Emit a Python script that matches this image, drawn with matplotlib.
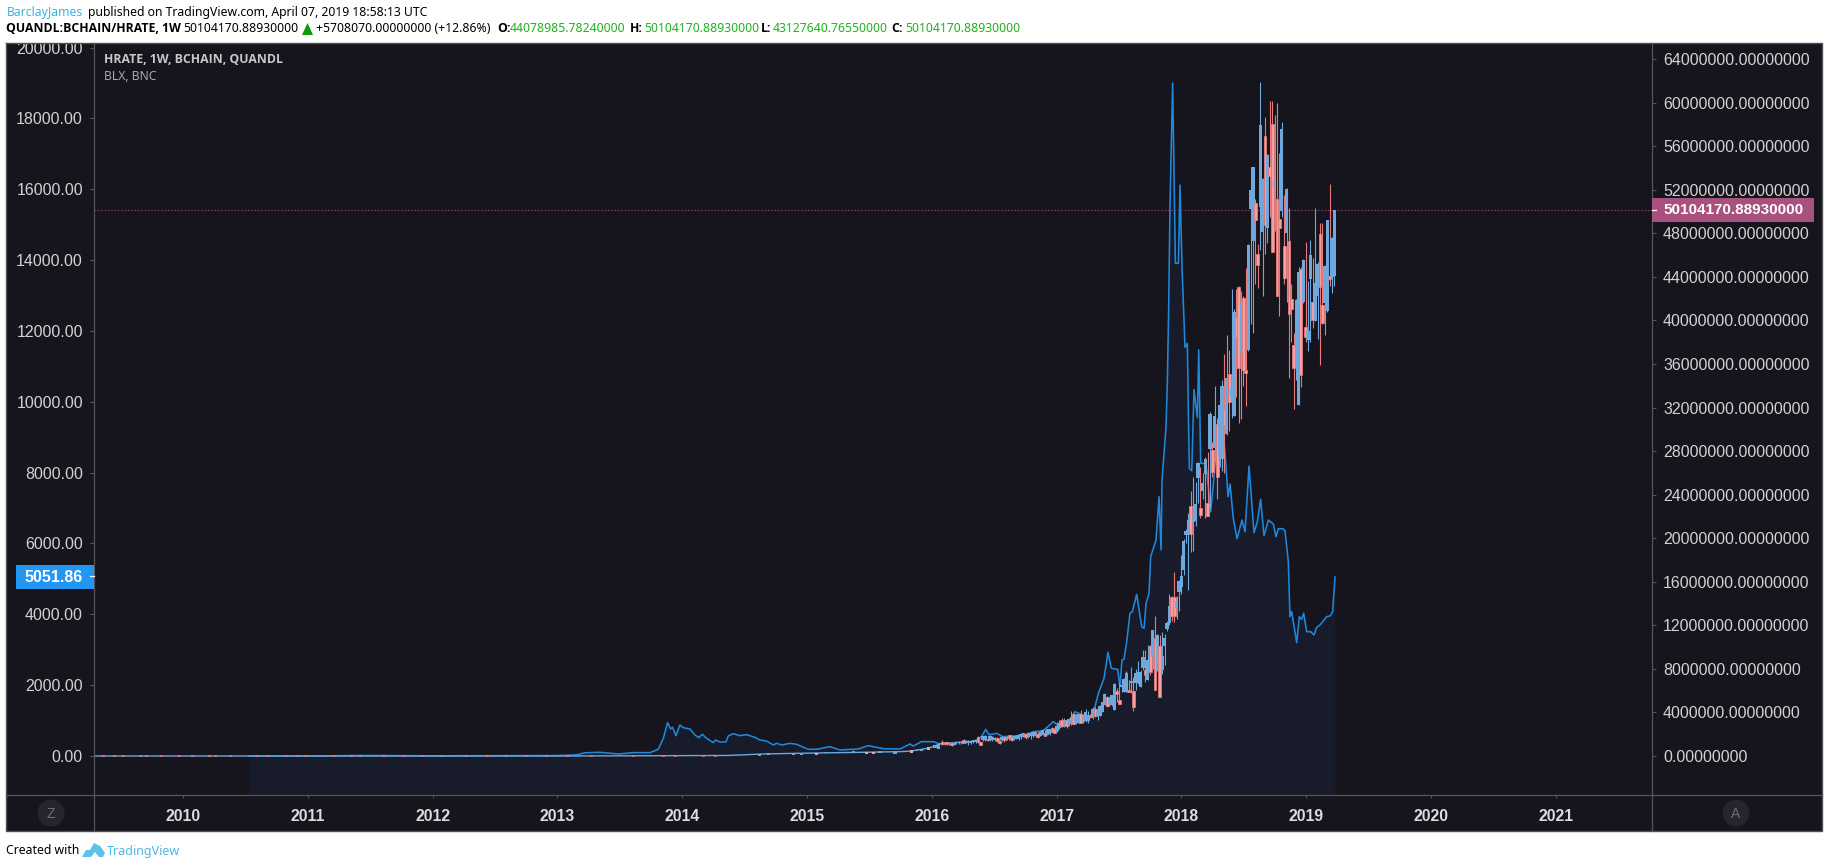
import matplotlib
matplotlib.use('Agg')
import matplotlib.pyplot as plt
from matplotlib.patches import Rectangle, Circle, Polygon

# weekly HRATE candles in millions, oldest first
hr_open = [1.3,1.1,1.25,1.1,1.2,1.05,1.15,1.2,1.2,1.45,
    1.2,1.2,1.2,1.3,1.3,1.7,1.3,1.5,1.5,1.55,
    1.5,1.5,1.5,1.65,1.4,1.5,1.75,1.5,1.9,1.75,
    1.6,1.6,1.6,1.7,1.8,2.05,1.75,1.8,1.85,1.95,
    2.0,1.85,1.95,2.1,1.95,2.0,2.55,2.45,2.3,2.6,
    3.35,2.75,3.3,2.9,2.95,3.85,3.0,3.15,3.85,3.1,
    3.2,3.2,3.65,3.5,4.3,3.65,
    3.7,4.0,4.7,5.4,4.8,4.7,4.2,6.0,5.1,6.3,
    5.9,5.9,6.1,6.7,6.0,6.7,6.7,6.3,8.1,7.9,
    7.0,10.1,9.1,10.8,7.8,10.1,7.9,10.1,11.7,12.2,
    14.6,14.6,13.6,15.1,15.5,17.1,20.3,20.4,23.0,21.5,
    21.6,25.5,22.8,24.3,25.9,23.2,28.2,28.1,28.3,30.5,
    27.6,27.3,31.8,29.6,35.1,33.0,31.2,40.3,43.1,37.0,
    42.1,35.4,37.3,50.2,47.3,50.8,46.1,50.4,48.1,56.9,
    48.5,54.1,58.0,52.3,51.1,49.3,50.0,46.8,48.0,47.3,
    42.0,37.7,35.8,32.2,44.7,41.7,39.4,38.2,43.8,41.7,
    39.9,42.2,47.9,41.4,41.6,40.9,44.1,44.0,44.08]
hr_high = [1.5,1.3,1.3,1.25,1.3,1.25,1.3,1.35,1.4,1.55,
    1.45,1.45,1.45,1.5,1.5,1.8,1.4,1.85,1.9,1.6,
    1.9,1.8,1.75,1.7,1.45,1.8,1.8,1.85,1.95,1.8,
    1.85,1.9,2.0,2.1,2.15,2.1,2.2,2.2,2.25,2.3,
    2.25,2.3,2.45,2.35,2.5,2.5,2.65,2.8,3.1,3.3,
    3.5,3.5,3.4,3.5,4.1,3.95,3.9,3.9,4.2,3.9,
    4.3,4.1,3.9,4.5,4.5,4.5,
    4.7,5.0,5.8,5.5,5.2,5.6,6.7,6.2,6.8,6.9,
    7.2,7.8,7.0,8.2,7.3,8.0,8.7,7.9,9.7,9.7,
    10.2,10.2,11.6,12.9,11.2,11.1,11.4,11.2,12.4,14.9,
    14.7,16.9,14.7,16.2,18.5,19.9,20.8,22.3,24.3,25.6,
    25.2,27.0,26.5,26.0,27.5,27.9,31.6,28.8,34.0,31.0,
    33.0,34.5,36.9,38.7,37.3,42.9,41.0,42.9,43.2,42.7,
    42.2,44.8,47.0,52.0,54.1,51.1,47.0,61.9,53.1,58.7,
    55.3,60.1,60.1,58.9,60.0,55.4,58.2,51.5,52.2,50.3,
    43.3,38.8,42.0,44.9,44.9,45.6,47.2,43.6,47.4,45.7,
    50.3,45.4,48.9,48.9,45.1,49.2,52.5,47.7,50.10]
hr_low = [1.0,1.0,1.0,1.0,0.95,1.0,1.1,1.1,1.1,1.15,
    1.15,1.0,1.1,1.2,1.2,1.2,1.0,1.4,1.4,1.4,
    1.4,1.4,1.4,1.3,1.1,1.4,1.3,1.45,1.5,1.4,
    1.5,1.55,1.5,1.6,1.7,1.6,1.65,1.55,1.7,1.8,
    1.65,1.8,1.9,1.8,1.9,1.9,2.2,2.15,2.2,2.5,
    2.7,2.65,2.55,2.8,2.85,2.95,2.95,3.05,3.05,3.0,
    3.1,3.0,3.45,3.4,3.6,3.3,
    3.7,4.0,4.7,4.5,4.7,4.6,4.2,5.0,4.8,5.9,
    5.9,5.9,5.9,5.8,4.1,6.1,6.6,6.3,7.9,6.8,
    7.0,7.4,8.0,6.1,7.8,5.4,7.5,8.4,11.5,12.0,
    12.4,12.3,12.6,13.3,14.9,16.6,19.6,15.2,18.7,18.8,
    21.1,23.2,21.9,23.6,21.9,22.0,22.8,25.6,27.0,23.6,
    26.5,26.2,26.0,29.5,29.8,31.0,31.2,33.0,30.6,30.9,
    34.0,32.1,37.2,39.7,38.8,43.3,43.0,46.5,42.2,46.1,
    47.1,49.5,46.3,48.2,42.2,40.4,49.5,43.3,41.7,34.7,
    38.0,31.9,34.5,32.2,33.9,41.6,38.0,37.2,38.0,39.3,
    39.9,38.3,35.9,39.7,38.7,40.8,43.2,42.5,43.13]
hr_close = [1.1,1.2,1.1,1.2,1.05,1.2,1.25,1.3,1.3,1.2,
    1.4,1.4,1.4,1.45,1.45,1.25,1.05,1.8,1.8,1.5,
    1.8,1.7,1.65,1.4,1.15,1.75,1.45,1.75,1.65,1.45,
    1.8,1.85,1.95,2.05,2.1,1.7,2.15,2.15,2.2,2.25,
    1.7,2.25,2.35,1.8,2.45,2.45,2.25,2.15,2.8,3.0,
    2.75,3.3,2.8,3.4,3.6,2.95,3.75,3.85,3.05,3.6,
    4.0,3.8,3.55,4.3,3.7,4.1,
    4.6,5.0,5.7,4.6,5.1,5.6,6.6,5.7,4.8,6.5,
    7.1,7.6,5.9,6.9,4.5,7.6,7.7,7.7,9.1,7.4,
    8.8,7.7,11.6,6.1,11.1,5.4,9.2,10.8,12.2,13.8,
    12.9,12.9,14.2,16.1,16.5,19.7,20.7,21.7,20.4,21.9,
    23.1,26.9,22.1,25.1,27.3,22.0,31.4,26.1,31.2,25.6,
    32.2,34.0,30.4,34.7,32.5,33.8,40.8,38.5,35.6,41.6,
    35.4,35.2,46.9,52.0,54.1,49.2,45.1,57.9,53.0,48.8,
    55.2,53.3,46.3,52.7,42.2,48.5,57.6,43.9,52.1,40.6,
    41.0,35.6,41.9,44.4,35.0,45.5,38.5,39.0,46.0,40.0,
    43.4,45.2,43.1,39.8,45.0,49.2,43.8,47.6,50.10]
last_candle_year = 2019.226
last_close = 50104170.8893

# the flat years before the candles get visible
early_years = [2009.30,2013.00,2013.60,2014.37,2014.68,2014.94,2015.21,2015.48,2015.75,2015.83,2015.91,2015.96,2016.01,2016.07]
early_hr = [0.0,0.0,0.02,0.05,0.2,0.25,0.3,0.35,0.4,0.45,0.6,0.7,0.85,1.15]
early_red_years = [2009.36,2009.45,2009.52,2009.66,2009.71,2009.83,2009.97,2010.08,2010.21,2010.26,2010.38,2010.59,2010.68,2010.83,
    2010.92,2010.98,2011.21,2011.35,2011.42,2011.61,2011.77,2011.92,2012.08,2012.27,2012.44,2012.59,2012.75,2012.91,2013.08,2013.27,
    2013.61,2013.85,2013.95,2014.17,2014.27]
early_red_hr = [0.0,0.0,0.0,0.0,0.0,0.0,0.0,0.0,0.0,0.0,0.0,0.0,0.0,0.0,
    0.0,0.0,0.0,0.0,0.0,0.0,0.0,0.0,0.0,0.0,0.0,0.0,0.0,0.0,0.0,0.0,
    0.02,0.03,0.03,0.04,0.04]

# small candles of 2014-2016, only the body is readable
small_years = [2014.415,2014.618,2014.690,2014.890,2014.957,2015.077,2015.157,2015.318,2015.371,2015.478,
    2015.531,2015.585,2015.705,2015.838,2015.878,2015.918,2015.972,2016.025,2016.052]
small_low = [0.0,0.0,0.1,0.1,0.1,0.1,0.25,0.25,0.25,0.22,0.19,0.31,0.19,0.31,0.43,0.43,0.55,0.71,0.65]
small_high = [0.04,0.16,0.28,0.28,0.22,0.31,0.4,0.37,0.43,0.4,0.37,0.49,0.43,0.55,0.55,0.68,0.8,1.0,1.07]
small_down = [False,False,False,False,False,True,False,False,False,True,True,False,False,True,False,False,True,False,False]

# BLX weekly closes, left axis
blx_years = [2010.53,2011.00,2011.45,2012.00,2012.50,2013.00,2013.10,2013.15,2013.22,2013.34,2013.488,2013.608,2013.742,2013.808,2013.849,
    2013.883,2013.907,2013.923,2013.950,2013.982,2014.009,2014.062,2014.102,2014.134,2014.161,2014.196,2014.249,2014.268,2014.303,2014.351,
    2014.369,2014.409,2014.463,2014.516,2014.583,2014.623,2014.676,2014.730,2014.757,2014.797,2014.863,2014.917,2015.010,2015.077,2015.184,
    2015.264,2015.411,2015.491,2015.531,2015.611,2015.745,2015.825,2015.852,2015.918,2016.012,2016.065,2016.092,2016.172,2016.279,2016.333,
    2016.399,2016.432,2016.459,2016.520,2016.568,2016.654,2016.760,2016.814,2016.894,2016.974,2017.028,2017.081,2017.148,2017.241,2017.289,
    2017.335,2017.380,2017.412,2017.439,2017.490,2017.508,2017.524,2017.540,2017.562,2017.588,2017.607,2017.642,2017.682,2017.701,2017.717,
    2017.741,2017.754,2017.797,2017.821,2017.837,2017.845,2017.855,2017.877,2017.888,2017.898,2017.909,2017.930,2017.952,2017.976,2017.989,
    2018.005,2018.029,2018.048,2018.056,2018.064,2018.083,2018.101,2018.128,2018.139,2018.155,2018.197,2018.235,2018.269,2018.288,2018.323,
    2018.352,2018.374,2018.390,2018.416,2018.446,2018.486,2018.510,2018.542,2018.582,2018.609,2018.635,2018.662,2018.697,2018.737,2018.758,
    2018.777,2018.812,2018.830,2018.857,2018.870,2018.884,2018.924,2018.945,2018.964,2018.980,2019.004,2019.036,2019.063,2019.084,2019.111,
    2019.164,2019.191,2019.212,2019.231]
blx_close = [0.06,0.3,15,5,8,13,25,30,90,104,57,95,95,189,499,
    941,763,810,575,876,800,763,593,518,612,499,377,452,396,396,
    565,631,575,603,527,452,424,311,358,311,358,330,189,189,264,
    170,198,292,264,207,198,339,283,405,405,339,358,377,405,405,
    546,754,602,640,546,565,600,686,714,970,811,880,1250,1110,1130,
    1770,2193,2927,2475,2447,1958,2710,2729,3228,4028,4075,4564,3652,3605,4310,
    4593,5628,6098,7322,5816,7792,8262,9298,10615,12600,15600,19000,13910,13910,16120,
    13816,11540,11650,9674,8121,8055,10350,9552,11463,8262,8262,6898,8168,8827,9674,
    8451,7322,7679,6710,6136,6663,6333,8187,6305,6616,7246,6220,6663,6550,6192,
    6418,6418,6362,5486,3934,4075,3200,3934,3859,4028,3510,3510,3416,3633,3699,
    3934,3953,4075,5051.86]

year_ticks = [2010,2011,2012,2013,2014,2015,2016,2017,2018,2019,2020,2021]
left_ticks = [0,2000,4000,6000,8000,10000,12000,14000,16000,18000,20000]
right_ticks = [0,4,8,12,16,20,24,28,32,36,40,44,48,52,56,60,64]

W, H = 1828, 868
BG = '#16141c'
AREA = '#171b2a'
LINE = '#1e88dc'
UP = '#6fa8dc'
DOWN = '#f4a0a0'
DOWN_EDGE = '#e87a7a'
GRID = '#55555a'
LABEL = '#d2d2d2'

plt.rcParams['font.family'] = ['Liberation Sans', 'DejaVu Sans']

fig = plt.figure(figsize=(W / 100, H / 100), dpi=100, facecolor='white')

# pane is x 94..1652, y 43..795 in image pixels
ax_l = fig.add_axes([94 / W, 1 - 795 / H, (1652 - 94) / W, (795 - 43) / H], facecolor=BG)
ax_r = ax_l.twinx()
ax_l.set_xlim(2009.287, 2021.771)
ax_l.set_ylim(-1101, 20130)
ax_r.set_ylim(-3.58e6, 65.47e6)

ax_l.fill_between(blx_years, blx_close, -1101, color=AREA, lw=0, zorder=1)
ax_l.plot(blx_years, blx_close, color=LINE, lw=1.15, zorder=2)

# early candles are too small to see as bodies
ax_r.plot(early_years, [v * 1e6 for v in early_hr], color=UP, lw=1.0, zorder=2)
ax_r.hlines([v * 1e6 for v in early_red_hr], [y - 0.012 for y in early_red_years],
            [y + 0.012 for y in early_red_years], color=DOWN_EDGE, lw=1.1, zorder=3)

body_w = 3.2 / 124.8
for i in range(len(small_years)):
    ax_r.bar(small_years[i], (small_high[i] - small_low[i]) * 1e6, bottom=small_low[i] * 1e6, width=body_w,
             color=DOWN if small_down[i] else UP, lw=0, zorder=5)

n = len(hr_open)
for i in range(n):
    x = last_candle_year - (n - 1 - i) / 52.18
    o, h, l, c = hr_open[i] * 1e6, hr_high[i] * 1e6, hr_low[i] * 1e6, hr_close[i] * 1e6
    up = c >= o
    ax_r.vlines(x, l, h, color=UP if up else DOWN_EDGE, lw=0.8, zorder=5)
    if up:
        ax_r.bar(x, c - o, bottom=o, width=body_w, color=UP, lw=0, zorder=5)
    else:
        ax_r.bar(x, o - c, bottom=c, width=body_w * 0.9, color=DOWN, edgecolor=DOWN_EDGE, lw=0.6, zorder=5)

ax_r.axhline(last_close, color='#7d3b62', lw=0.8, ls=(0, (1.5, 1.5)), zorder=3)

ax_l.set_xticks(year_ticks)
ax_l.set_xticklabels([str(y) for y in year_ticks], fontweight='bold', fontsize=11.3, color='#dcdcdc')
ax_l.tick_params(axis='x', length=2.5, width=0.8, color=GRID, pad=7.5)
ax_l.set_yticks(left_ticks)
ax_l.set_yticklabels(['%.2f' % v for v in left_ticks], fontsize=11.5, color=LABEL)
ax_l.tick_params(axis='y', length=3, width=0.8, color=GRID, pad=5)
ax_r.set_yticks([v * 1e6 for v in right_ticks])
ax_r.set_yticklabels(['%.8f' % (v * 1e6) for v in right_ticks], fontsize=11.5, color=LABEL)
ax_r.tick_params(axis='y', length=3, width=0.8, color=GRID, pad=5)
for a in (ax_l, ax_r):
    for s in a.spines.values():
        s.set_visible(False)

# everything around the pane, in image pixels
ax_px = fig.add_axes([0, 0, 1, 1], zorder=10)
ax_px.set_xlim(0, W)
ax_px.set_ylim(H, 0)
ax_px.axis('off')
ax_px.patch.set_visible(False)

# side panels and bottom band behind tick labels are dark, put on the figure
fig.add_artist(Rectangle((6 / W, 1 - 831 / H), (1822 - 6) / W, (831 - 43) / H, transform=fig.transFigure,
                         facecolor=BG, edgecolor='none', zorder=-5))

# white cover above the pane clips the 20000 label
ax_px.add_patch(Rectangle((0, 0), W, 43, facecolor='white', edgecolor='none', zorder=1))
ax_px.plot([6, 1822, 1822, 6, 6], [43, 43, 831, 831, 43], color='#505054', lw=1.0, zorder=2)
ax_px.plot([6, 1822], [795, 795], color=GRID, lw=0.9, zorder=2)
ax_px.plot([94, 94], [43, 831], color=GRID, lw=0.9, zorder=2)
ax_px.plot([1652, 1652], [43, 831], color=GRID, lw=0.9, zorder=2)

# price labels
ax_px.add_patch(Rectangle((1652, 198), 162, 24, facecolor='#a8517e', edgecolor='none', zorder=3))
ax_px.plot([1652, 1656], [210, 210], color='white', lw=0.9, zorder=4)
ax_px.text(1663, 210.5, '50104170.88930000', color='white', fontsize=11, fontweight='bold', va='center', ha='left', zorder=4)
ax_px.add_patch(Rectangle((16, 565), 78, 24, facecolor='#2196f3', edgecolor='none', zorder=3))
ax_px.plot([90, 94], [576, 576], color='white', lw=0.9, zorder=4)
ax_px.text(83, 577, '5051.86', color='white', fontsize=11.5, fontweight='bold', va='center', ha='right', zorder=4)

# Z and A buttons
ax_px.add_patch(Circle((51, 813), 13.5, facecolor='#25252e', edgecolor='none', zorder=3))
ax_px.text(51, 813.5, 'Z', color='#6f6f7a', fontsize=10, ha='center', va='center', zorder=4)
ax_px.add_patch(Circle((1736, 813), 13.5, facecolor='#25252e', edgecolor='none', zorder=3))
ax_px.text(1736, 813.5, 'A', color='#6f6f7a', fontsize=10, ha='center', va='center', zorder=4)

# pane legend, Open Sans carries the bold here
ax_px.text(104, 59.5, 'HRATE, 1W, BCHAIN, QUANDL', color='#c8c8c8', fontsize=8.8, fontweight='bold',
           family='Open Sans', va='center', zorder=4)
ax_px.text(104, 77, 'BLX, BNC', color='#a8a8a8', fontsize=8.8, family='Noto Sans', va='center', zorder=4)

# header lines
GREEN = '#22b022'
def head(x, y, s, color='black', weight='normal'):
    fam = 'Open Sans' if weight == 'bold' else 'Noto Sans'
    ax_px.text(x, y, s, color=color, fontsize=8.8, fontweight=weight, family=fam, va='center', ha='left', zorder=4)

head(6.5, 12.5, 'BarclayJames', color='#3bb3e4')
head(88, 12.5, 'published on TradingView.com, April 07, 2019 18:58:13 UTC')
head(6.5, 29, 'QUANDL:BCHAIN/HRATE, 1W', weight='bold')
head(183, 29, '50104170.88930000')
ax_px.add_patch(Polygon([(302, 35), (313, 35), (307.5, 23)], facecolor='#0a9a0a', edgecolor='none', zorder=4))
head(316, 29, '+5708070.00000000 (+12.86%)')
head(497, 29, 'O:', weight='bold')
head(510, 29, '44078985.78240000', color=GREEN)
head(630, 29, 'H:', weight='bold')
head(644, 29, '50104170.88930000', color=GREEN)
head(761, 29, 'L:', weight='bold')
head(773, 29, '43127640.76550000', color=GREEN)
head(891, 29, 'C:', weight='bold')
head(905, 29, '50104170.88930000', color=GREEN)

# footer with the small logo
head(6, 851, 'Created with')
ax_px.add_patch(Polygon([(82, 857), (86, 850), (90, 850), (94, 843), (100, 846), (105, 853), (103, 857), (99, 857), (95, 852), (91, 857)],
                        facecolor='#5bc0ea', edgecolor='none', zorder=4))
ax_px.text(106.5, 851, 'TradingView', color='#4db8e8', fontsize=9, family='Noto Sans', va='center', ha='left', zorder=4)

fig.savefig('out.png', dpi=100)
plt.close(fig)
